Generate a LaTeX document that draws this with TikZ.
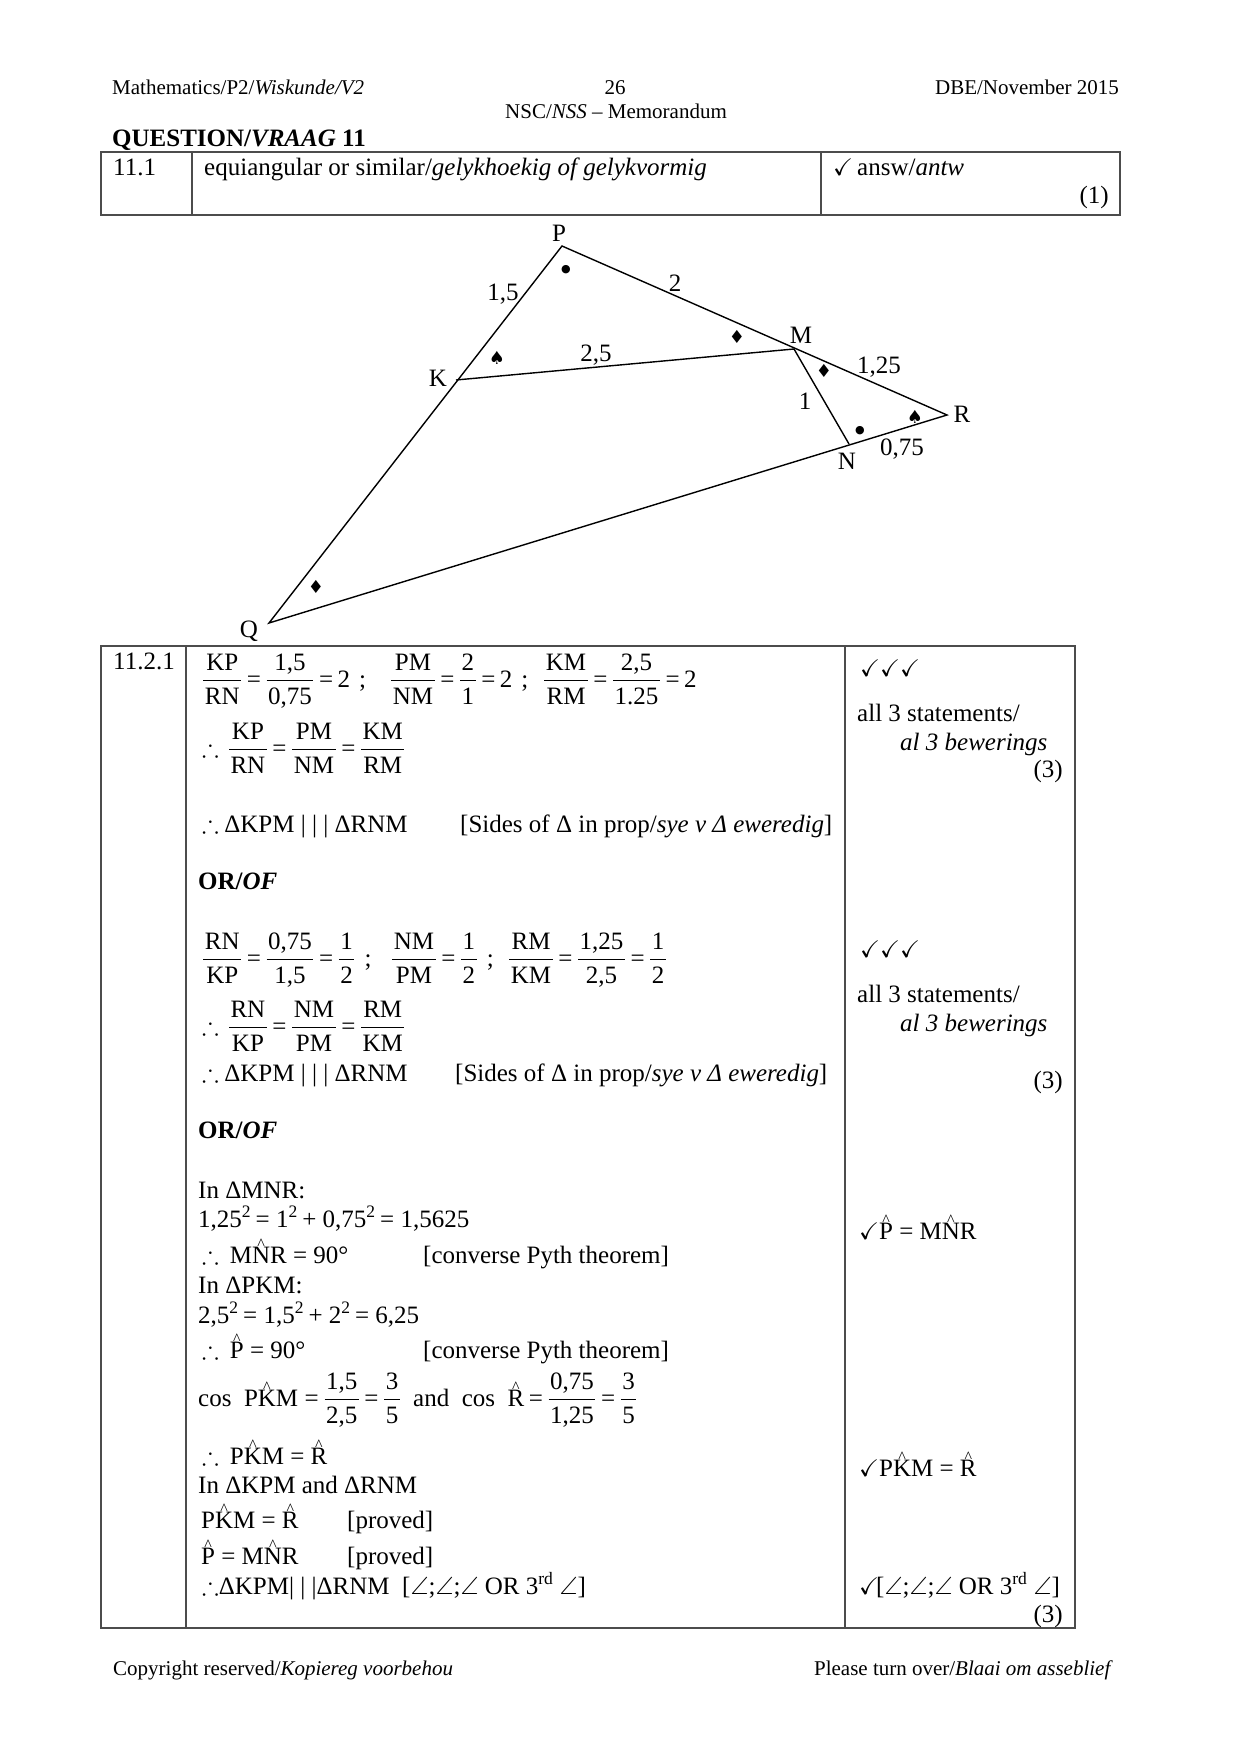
\documentclass[tikz,border=0pt]{standalone}
\usepackage{amsmath,amssymb}
\usepackage{fontspec}
\setmainfont{Liberation Serif}
\newfontfamily\symfont{DejaVu Sans}
\usetikzlibrary{calc}
\tikzstyle{txt} = [inner sep=0pt, anchor=base west, font=\fontsize{25}{30}\selectfont]
\tikzstyle{txtr} = [inner sep=0pt, anchor=base east, font=\fontsize{25}{30}\selectfont]
\tikzstyle{small} = [font=\fontsize{21}{26}\selectfont]
\tikzstyle{lab} = [inner sep=0pt, font=\fontsize{25}{30}\selectfont]
\tikzstyle{sym} = [inner sep=0pt, font=\symfont\fontsize{18}{18}\selectfont]
\tikzstyle{dot} = [inner sep=0pt, font=\symfont\fontsize{11}{11}\selectfont]
\tikzstyle{frame} = [line width=1.5pt, draw=black!70]
\tikzstyle{side} = [line width=1.4pt]
\newcommand{\fr}[2]{\ensuremath{\displaystyle\genfrac{}{}{1.3pt}{0}{\hspace{1.5pt}\text{#1}\hspace{1.5pt}}{\hspace{1.5pt}\text{#2}\hspace{1.5pt}}}}
\newcommand{\hatl}[1]{{\ooalign{#1\cr\hidewidth\raisebox{14pt}{\fontsize{16}{16}\selectfont\textasciicircum}\hidewidth\cr}}}
\newcommand{\ck}{{\fontsize{24}{24}\selectfont\ensuremath{\checkmark}}}
\newcommand{\thf}{\ensuremath{\therefore}}
\newcommand{\ang}{\ensuremath{\angle}}
\newcommand{\dlt}{\textDelta}
\newcommand{\eqs}{\hspace{4.5pt}=\hspace{4.5pt}}
\newcommand{\sq}{\textsuperscript{2}\hspace{4.5pt}}
\DeclareTextSymbol{\textDelta}{TU}{"0394}
\begin{document}
\begin{tikzpicture}[x=1pt,y=-1pt]
\useasboundingbox (0,0) rectangle (1241,1755);
\fill [white] (0,0) rectangle (1241,1755);

\coordinate (P) at (562,246);
\coordinate (K) at (456,380);
\coordinate (M) at (794,349);
\coordinate (R) at (947,415);
\coordinate (N) at (849,444);
\coordinate (Q) at (269,623);

\node [txt,small] (head1) at (112,95) {Mathematics/P2/\textit{Wiskunde/V2}};
\node [txt,small,anchor=base] (head2) at (615,95) {26};
\node [txtr,small] (head3) at (1119,95) {DBE/November 2015};
\node [txt,small,anchor=base] (head4) at (616,119) {NSC/\textit{NSS} -- Memorandum};
\node [txt] (head5) at (112,147) {\textbf{QUESTION/\textit{VRAAG} 11}};

\draw [frame] (101,152) rectangle (1120,215);
\draw [frame] (192,152) -- (192,215);
\draw [frame] (821,152) -- (821,215);
\node [txt] (q1) at (113,176) {11.1};
\node [txt] (a1) at (204,176) {equiangular or similar/\textit{gelykhoekig of gelykvormig}};
\node [txt] (m1) at (833,176) {\ck};
\node [txt] (m2) at (857,176) {answ/\textit{antw}};
\node [txtr] (m3) at (1109,204) {(1)};

\draw [side] (P) -- (Q) -- (R) -- cycle;
\draw [side] (K) -- (M) -- (N);

\node [lab] (lP) at (559,233) {P};
\node [lab] (lK) at (438,378) {K};
\node [lab] (lM) at (801,335) {M};
\node [lab] (lR) at (962,414) {R};
\node [lab] (lN) at (847,461) {N};
\node [lab] (lQ) at (249,631) {Q};
\node [lab] (s1) at (503,294) {1,5};
\node [lab] (s2) at (675,283) {2};
\node [lab] (s3) at (879,367) {1,25};
\node [lab] (s4) at (596,355) {2,5};
\node [lab] (s5) at (805,401) {1};
\node [lab] (s6) at (902,449) {0,75};
\node [dot] (d1) at (566,270) {●};
\node [dot] (d2) at (860,431) {●};
\node [sym] (b1) at (497,358) {♠};
\node [sym] (b2) at (915,417) {♠};
\node [sym] (c1) at (737,337) {♦};
\node [sym] (c2) at (824,371) {♦};
\node [sym] (c3) at (316,587) {♦};

\draw [frame] (101,646) rectangle (1075,1628);
\draw [frame] (186,646) -- (186,1628);
\draw [frame] (845,646) -- (845,1628);
\node [txt] (q2) at (113,669) {11.2.1};

\node [txt] (e1) at (202,687) {\fr{KP}{RN}\eqs\fr{1,5}{0,75}\eqs 2\hspace{9pt};};
\node [txt] (e2) at (390,687) {\fr{PM}{NM}\eqs\fr{2}{1}\eqs 2\hspace{9pt};};
\node [txt] (e3) at (543,687) {\fr{KM}{RM}\eqs\fr{2,5}{1.25}\eqs 2};
\node [txt] (e4) at (202,756) {\thf\hspace{9pt}\fr{KP}{RN}\eqs\fr{PM}{NM}\eqs\fr{KM}{RM}};
\node [txt] (e5) at (202,832) {\thf\hspace{5.5pt}\dlt KPM | | | \dlt RNM};
\node [txt] (e6) at (460,832) {[Sides of \dlt\ in prop/\textit{sye v \dlt\ eweredig}]};
\node [txt] (or1) at (198,889) {\textbf{OR/\textit{OF}}};

\node [txt] (f1) at (202,966) {\fr{RN}{KP}\eqs\fr{0,75}{1,5}\eqs\fr{1}{2}\hspace{9pt};};
\node [txt] (f2) at (391,966) {\fr{NM}{PM}\eqs\fr{1}{2}\hspace{9pt};};
\node [txt] (f3) at (508,966) {\fr{RM}{KM}\eqs\fr{1,25}{2,5}\eqs\fr{1}{2}};
\node [txt] (f4) at (202,1034) {\thf\hspace{9pt}\fr{RN}{KP}\eqs\fr{NM}{PM}\eqs\fr{RM}{KM}};
\node [txt] (f5) at (202,1081) {\thf\hspace{5.5pt}\dlt KPM | | | \dlt RNM};
\node [txt] (f6) at (455,1081) {[Sides of \dlt\ in prop/\textit{sye v \dlt\ eweredig}]};
\node [txt] (or2) at (198,1138) {\textbf{OR/\textit{OF}}};

\node [txt] (g1) at (198,1198) {In \dlt MNR:};
\node [txt] (g2) at (198,1227) {1,25\sq= 1\sq+ 0,75\sq= 1,5625};
\node [txt] (g3) at (202,1263) {\thf\hspace{11pt}M\hatl{N}R = 90°};
\node [txt] (g4) at (423,1263) {[converse Pyth theorem]};
\node [txt] (g5) at (198,1293) {In \dlt PKM:};
\node [txt] (g6) at (198,1323) {2,5\sq= 1,5\sq+ 2\sq= 6,25};
\node [txt] (g7) at (202,1358) {\thf\hspace{11pt}\hatl{P} = 90°};
\node [txt] (g8) at (423,1358) {[converse Pyth theorem]};
\node [txt] (g9) at (198,1406) {cos\ \ P\hatl{K}M\hspace{2pt}\eqs\fr{1,5}{2,5}\eqs\fr{3}{5}};
\node [txt] (g10) at (413,1406) {and\ \ cos\ \ \hatl{R}\eqs\fr{0,75}{1,25}\eqs\fr{3}{5}};
\node [txt] (g11) at (202,1464) {\thf\hspace{11pt}P\hatl{K}M = \hatl{R}};
\node [txt] (g12) at (198,1493) {In \dlt KPM and \dlt RNM};
\node [txt] (g13) at (201,1528) {P\hatl{K}M = \hatl{R}};
\node [txt] (g14) at (347,1528) {[proved]};
\node [txt] (g15) at (201,1564) {\hatl{P} = M\hatl{N}R};
\node [txt] (g16) at (347,1564) {[proved]};
\node [txt] (g17) at (202,1594) {\thf\dlt KPM| | |\dlt RNM\ \ [\ang;\ang;\ang\ OR 3\textsuperscript{rd} \ang]};

\node [txt] (r1) at (860,676) {\ck\ck\ck};
\node [txt] (r2) at (857,721) {all 3 statements/};
\node [txt] (r3) at (900,750) {\textit{al 3 bewerings}};
\node [txtr] (r4) at (1063,777) {(3)};
\node [txt] (r5) at (860,957) {\ck\ck\ck};
\node [txt] (r6) at (857,1002) {all 3 statements/};
\node [txt] (r7) at (900,1031) {\textit{al 3 bewerings}};
\node [txtr] (r8) at (1063,1088) {(3)};
\node [txt] (r9) at (859,1239) {\ck\hatl{P} = M\hatl{N}R};
\node [txt] (r10) at (859,1476) {\ck P\hatl{K}M = \hatl{R}};
\node [txt] (r11) at (859,1594) {\ck\hspace{-3pt}[\ang;\ang;\ang\ OR 3\textsuperscript{rd} \ang]};
\node [txtr] (r12) at (1063,1622) {(3)};

\node [txt,small] (foot1) at (113,1675) {Copyright reserved/\textit{Kopiereg voorbehou}};
\node [txtr,small] (foot2) at (1113,1675) {Please turn over/\textit{Blaai om asseblief}};
\end{tikzpicture}
\end{document}
